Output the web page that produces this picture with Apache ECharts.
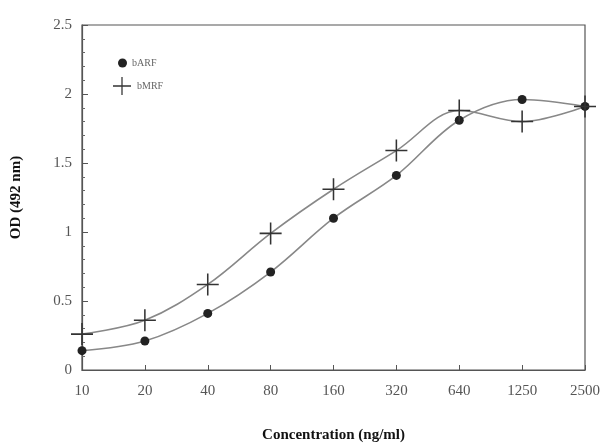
<!DOCTYPE html>
<html>
<head>
<meta charset="utf-8">
<script src="https://cdn.jsdelivr.net/npm/echarts@6/dist/echarts.min.js"></script>
<style>
  html, body { margin: 0; padding: 0; background: #ffffff; }
  #chart { width: 606px; height: 448px; }
</style>
</head>
<body>
<div id="chart"></div>
<script>
const concentrations = ["10", "20", "40", "80", "160", "320", "640", "1250", "2500"];
const barfValues = [0.14, 0.21, 0.41, 0.71, 1.10, 1.41, 1.81, 1.96, 1.91];
const bmrfValues = [0.26, 0.36, 0.62, 0.99, 1.31, 1.59, 1.88, 1.80, 1.91];

const plusIcon = "path://M0,9.3L20,9.3L20,10.7L0,10.7Z M9.3,0L10.7,0L10.7,20L9.3,20Z";
const serif = "'Liberation Serif', 'DejaVu Serif', serif";
const legendText = { fontFamily: serif, fontSize: 10, color: "#666" };

const chart = echarts.init(document.getElementById("chart"), null, { renderer: "canvas" });

chart.setOption({
  animation: false,
  backgroundColor: "#ffffff",
  grid: {
    left: 82,
    right: 21,
    top: 25,
    bottom: 72,
    show: true,
    borderColor: "#555",
    borderWidth: 1.2
  },
  legend: [
    {
      left: 113,
      top: 53,
      itemWidth: 9,
      itemHeight: 9,
      itemGap: 4,
      textStyle: legendText,
      data: [{ name: "bARF", icon: "circle", itemStyle: { color: "#222" } }]
    },
    {
      left: 108,
      top: 72,
      itemWidth: 20,
      itemHeight: 18,
      textStyle: legendText,
      data: [{ name: "bMRF", icon: plusIcon, itemStyle: { color: "#333" } }]
    }
  ],
  xAxis: {
    type: "category",
    data: concentrations,
    boundaryGap: false,
    name: "Concentration (ng/ml)",
    nameLocation: "middle",
    nameGap: 58,
    nameTextStyle: { fontFamily: serif, fontSize: 15, fontWeight: "bold", color: "#111" },
    axisLine: { lineStyle: { color: "#555", width: 1.2 } },
    axisTick: { inside: true, length: 5, lineStyle: { color: "#555" } },
    axisLabel: { fontFamily: serif, fontSize: 15, color: "#555", margin: 14 },
    splitLine: { show: false }
  },
  yAxis: {
    type: "value",
    min: 0,
    max: 2.5,
    interval: 0.5,
    name: "OD (492 nm)",
    nameLocation: "middle",
    nameGap: 58,
    nameTextStyle: { fontFamily: serif, fontSize: 15, fontWeight: "bold", color: "#111" },
    axisLine: { show: true, lineStyle: { color: "#555", width: 1.2 } },
    axisTick: { show: true, inside: true, length: 6, lineStyle: { color: "#555" } },
    minorTick: { show: true, splitNumber: 5, length: 3, lineStyle: { color: "#666" } },
    axisLabel: { fontFamily: serif, fontSize: 15, color: "#555", margin: 10 },
    splitLine: { show: false }
  },
  series: [
    {
      name: "bARF",
      type: "line",
      data: barfValues,
      smooth: 0.35,
      symbol: "circle",
      symbolSize: 9,
      itemStyle: { color: "#222" },
      lineStyle: { color: "#888", width: 1.6 }
    },
    {
      name: "bMRF",
      type: "line",
      data: bmrfValues,
      smooth: 0.35,
      symbol: plusIcon,
      symbolSize: 22,
      itemStyle: { color: "#333" },
      lineStyle: { color: "#888", width: 1.6 }
    }
  ]
});
</script>
</body>
</html>
